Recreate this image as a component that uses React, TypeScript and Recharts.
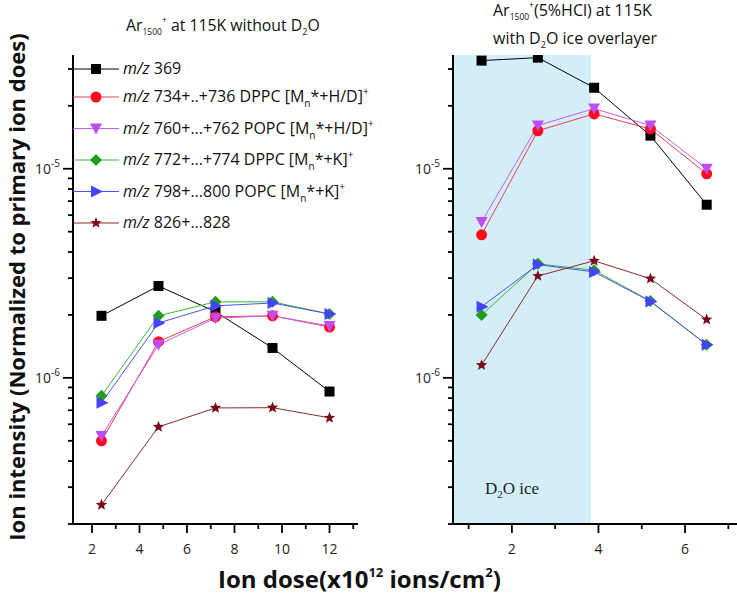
import React from "react";
import { LineChart, Line, XAxis, YAxis, ReferenceArea, Legend } from "recharts";

// dose values (x10^12 ions/cm2)
const leftDose = [2.4, 4.8, 7.2, 9.6, 12];
const rightDose = [1.3, 2.6, 3.9, 5.2, 6.5];

// left panel: Ar1500+ at 115K without D2O
const left369 = [1.98e-6, 2.75e-6, 2.07e-6, 1.39e-6, 8.6e-7];
const left734 = [5.0e-7, 1.49e-6, 1.96e-6, 1.98e-6, 1.75e-6];
const left760 = [5.27e-7, 1.44e-6, 1.93e-6, 1.98e-6, 1.77e-6];
const left772 = [8.2e-7, 1.98e-6, 2.31e-6, 2.31e-6, 2.02e-6];
const left798 = [7.6e-7, 1.83e-6, 2.21e-6, 2.28e-6, 2.02e-6];
const left826 = [2.47e-7, 5.83e-7, 7.18e-7, 7.2e-7, 6.44e-7];

// right panel: Ar1500+(5%HCl) at 115K with D2O ice overlayer
const right369 = [3.29e-5, 3.4e-5, 2.44e-5, 1.44e-5, 6.73e-6];
const right734 = [4.83e-6, 1.52e-5, 1.83e-5, 1.55e-5, 9.46e-6];
const right760 = [5.57e-6, 1.61e-5, 1.94e-5, 1.61e-5, 1.0e-5];
const right772 = [2.0e-6, 3.51e-6, 3.27e-6, 2.33e-6, 1.44e-6];
const right798 = [2.19e-6, 3.48e-6, 3.21e-6, 2.32e-6, 1.44e-6];
const right826 = [1.15e-6, 3.07e-6, 3.63e-6, 2.98e-6, 1.9e-6];

const seriesKeys = ["m369", "m734", "m760", "m772", "m798", "m826"];
const shapes = ["square", "circle", "down", "diamond", "right", "star"];
const markerColors = ["#000000", "#ff0a1e", "#c04cf8", "#229c22", "#4444ff", "#7a0a18"];
const lineColors = ["#000000", "#e8404c", "#c060f0", "#33bb33", "#5050ee", "#8c2a2a"];

// legend text: [main, subscript, middle, superscript]
const legendLabels = [
  ["369", "", "", ""],
  ["734+..+736 DPPC [M", "n", "*+H/D]", "+"],
  ["760+...+762 POPC [M", "n", "*+H/D]", "+"],
  ["772+...+774 DPPC [M", "n", "*+K]", "+"],
  ["798+...800 POPC [M", "n", "*+K]", "+"],
  ["826+...828", "", "", ""],
];

const yTicks = [
  2e-7, 3e-7, 4e-7, 5e-7, 6e-7, 7e-7, 8e-7, 9e-7,
  1e-6, 2e-6, 3e-6, 4e-6, 5e-6, 6e-6, 7e-6, 8e-6, 9e-6,
  1e-5, 2e-5, 3e-5,
];
const leftXTicks = [2, 3, 4, 5, 6, 7, 8, 9, 10, 11, 12, 13];
const rightXTicks = [1, 2, 3, 4, 5, 6, 7];

const iceEnd = 3.83;

const FONT = "'Open Sans', sans-serif";
const MINOR = 5;

function buildRows(dose: number[], cols: number[][]) {
  return dose.map((x, i) => {
    const row: Record<string, number> = { x };
    seriesKeys.forEach((k, j) => (row[k] = cols[j][i]));
    return row;
  });
}

const leftData = buildRows(leftDose, [left369, left734, left760, left772, left798, left826]);
const rightData = buildRows(rightDose, [right369, right734, right760, right772, right798, right826]);

function Marker({ cx, cy, shape, fill }: { cx: number; cy: number; shape: string; fill: string }) {
  if (cx == null || cy == null) return null;
  switch (shape) {
    case "square":
      return <rect x={cx - 5} y={cy - 5} width={10} height={10} fill={fill} />;
    case "circle":
      return <circle cx={cx} cy={cy} r={5.5} fill={fill} />;
    case "down":
      return <polygon points={`${cx - 6},${cy - 5} ${cx + 6},${cy - 5} ${cx},${cy + 6}`} fill={fill} />;
    case "diamond":
      return <polygon points={`${cx},${cy - 6} ${cx + 6},${cy} ${cx},${cy + 6} ${cx - 6},${cy}`} fill={fill} />;
    case "right":
      return <polygon points={`${cx - 5},${cy - 6} ${cx + 7},${cy} ${cx - 5},${cy + 6}`} fill={fill} />;
    default: {
      const pts: string[] = [];
      for (let i = 0; i < 10; i++) {
        const r = i % 2 === 0 ? 6 : 2.6;
        const a = -Math.PI / 2 + (i * Math.PI) / 5;
        pts.push(`${cx + r * Math.cos(a)},${cy + r * Math.sin(a)}`);
      }
      return <polygon points={pts.join(" ")} fill={fill} />;
    }
  }
}

const isDecade = (v: number) => Math.abs(Math.log10(v) - Math.round(Math.log10(v))) < 1e-6;

// tick x/y arrive at the end of the (minor) tick line
function YTick(props: any) {
  const { x, y, payload } = props;
  const v = payload.value;
  if (!isDecade(v)) return <g />;
  return (
    <g>
      <path d={`M${x},${y}H${x - 5}`} stroke="#000" strokeWidth={1.8} />
      <text x={x - 8} y={y + 5} textAnchor="end" fontFamily={FONT} fontSize={14} fill="#222">
        10
        <tspan fontSize={10} dy={-7}>
          {Math.round(Math.log10(v))}
        </tspan>
      </text>
    </g>
  );
}

function XTick(props: any) {
  const { x, y, payload } = props;
  const v = payload.value;
  if (v % 2 !== 0) return <g />;
  return (
    <g>
      <path d={`M${x},${y}V${y + 4}`} stroke="#000" strokeWidth={1.8} />
      <text x={x} y={y + 25} textAnchor="middle" fontFamily={FONT} fontSize={14} fill="#222">
        {v}
      </text>
    </g>
  );
}

function LegendBox() {
  return (
    <svg width={320} height={180} style={{ overflow: "visible" }}>
      {legendLabels.map((lab, i) => {
        const y = i === 0 ? 11 : 39 + (i - 1) * 31.5;
        return (
          <g key={i}>
            <line x1={0} x2={46} y1={y} y2={y} stroke={lineColors[i]} strokeWidth={1} />
            <Marker cx={23} cy={y} shape={shapes[i]} fill={markerColors[i]} />
            <text x={50} y={y + 5} fontFamily={FONT} fontSize={16} fill="#111">
              <tspan fontStyle="italic">m/z</tspan> {lab[0]}
              {lab[1] && (
                <tspan fontSize={10} dy={5}>
                  {lab[1]}
                </tspan>
              )}
              {lab[2] && <tspan dy={lab[1] ? -5 : 0}>{lab[2]}</tspan>}
              {lab[3] && (
                <tspan fontSize={10} dy={-7}>
                  {lab[3]}
                </tspan>
              )}
            </text>
          </g>
        );
      })}
    </svg>
  );
}

function Panel({
  data,
  width,
  left,
  xDomain,
  xTicks,
  withLegend,
  withIce,
}: {
  data: Record<string, number>[];
  width: number;
  left: number;
  xDomain: [number, number];
  xTicks: number[];
  withLegend?: boolean;
  withIce?: boolean;
}) {
  return (
    <div style={{ position: "absolute", left, top: 0, zIndex: withLegend ? 2 : 1 }}>
      <LineChart
        width={width}
        height={594}
        data={data}
        margin={{ top: 55, right: withLegend ? 12 : 0, bottom: 0, left: 0 }}
        style={{ overflow: "visible" }}
      >
        {withIce && (
          <ReferenceArea x1={xDomain[0]} x2={iceEnd} fill="#d3eef9" fillOpacity={1} stroke="none" />
        )}
        <XAxis
          type="number"
          dataKey="x"
          domain={xDomain}
          ticks={xTicks}
          interval={0}
          allowDataOverflow
          height={70}
          tickLine={{ stroke: "#000", strokeWidth: 1.8 }}
          tickSize={MINOR}
          tickMargin={0}
          axisLine={{ stroke: "#000", strokeWidth: 2 }}
          tick={<XTick />}
        />
        <YAxis
          scale="log"
          domain={[2e-7, 3.5e-5]}
          ticks={yTicks}
          interval={0}
          allowDataOverflow
          width={73}
          tickLine={{ stroke: "#000", strokeWidth: 1.8 }}
          tickSize={MINOR}
          tickMargin={0}
          axisLine={{ stroke: "#000", strokeWidth: 2 }}
          tick={<YTick />}
        />
        {withLegend && (
          <Legend
            layout="vertical"
            align="center"
            verticalAlign="middle"
            content={() => <LegendBox />}
            wrapperStyle={{ position: "absolute", left: 73, top: 58, width: 320, height: 180 }}
          />
        )}
        {seriesKeys.map((k, i) => (
          <Line
            key={k}
            dataKey={k}
            type="linear"
            stroke={lineColors[i]}
            strokeWidth={1}
            isAnimationActive={false}
            legendType="none"
            dot={(p: any) => (
              <Marker key={`${k}-${p.index}`} cx={p.cx} cy={p.cy} shape={shapes[i]} fill={markerColors[i]} />
            )}
          />
        ))}
      </LineChart>
    </div>
  );
}

export default function App() {
  return (
    <div style={{ position: "absolute", left: 0, top: 0, width: 737, height: 594, background: "#fff" }}>
      <Panel data={leftData} width={370} left={0} xDomain={[1.2, 13.2]} xTicks={leftXTicks} withLegend />
      <Panel data={rightData} width={357} left={380} xDomain={[0.64, 7.2]} xTicks={rightXTicks} withIce />
      <svg
        width={737}
        height={594}
        style={{ position: "absolute", left: 0, top: 0, pointerEvents: "none", zIndex: 3 }}
      >
        <text x={126} y={31} fontFamily={FONT} fontSize={15.8} fill="#111">
          Ar
          <tspan fontSize={8.5} dy={4}>1500</tspan>
          <tspan fontSize={8.5} dy={-12}>+</tspan>
          <tspan dy={8}> at 115K without D</tspan>
          <tspan fontSize={9} dy={4}>2</tspan>
          <tspan dy={-4}>O</tspan>
        </text>
        <text x={493} y={16} fontFamily={FONT} fontSize={16} fill="#111">
          Ar
          <tspan fontSize={8.5} dy={4}>1500</tspan>
          <tspan fontSize={8.5} dy={-12}>+</tspan>
          <tspan dy={8}>(5%HCl) at 115K</tspan>
        </text>
        <text x={493} y={44} fontFamily={FONT} fontSize={16} fill="#111">
          with D
          <tspan fontSize={9} dy={4}>2</tspan>
          <tspan dy={-4}>O ice overlayer</tspan>
        </text>
        <text x={485} y={494} fontFamily="'Liberation Serif', serif" fontSize={17} fill="#222">
          D<tspan fontSize={11} dy={4}>2</tspan>
          <tspan dy={-4}>O ice</tspan>
        </text>
        <text
          x={25}
          y={287}
          transform="rotate(-90 25 287)"
          textAnchor="middle"
          fontFamily={FONT}
          fontWeight="bold"
          fontSize={22}
          fill="#111"
        >
          Ion intensity (Normalized to primary ion does)
        </text>
        <text x={218} y={588} fontFamily={FONT} fontWeight="bold" fontSize={24} fill="#111">
          Ion dose(x10
          <tspan fontSize={13} dy={-11}>12</tspan>
          <tspan dy={11}> ions/cm</tspan>
          <tspan fontSize={13} dy={-11}>2</tspan>
          <tspan dy={11}>)</tspan>
        </text>
      </svg>
    </div>
  );
}
